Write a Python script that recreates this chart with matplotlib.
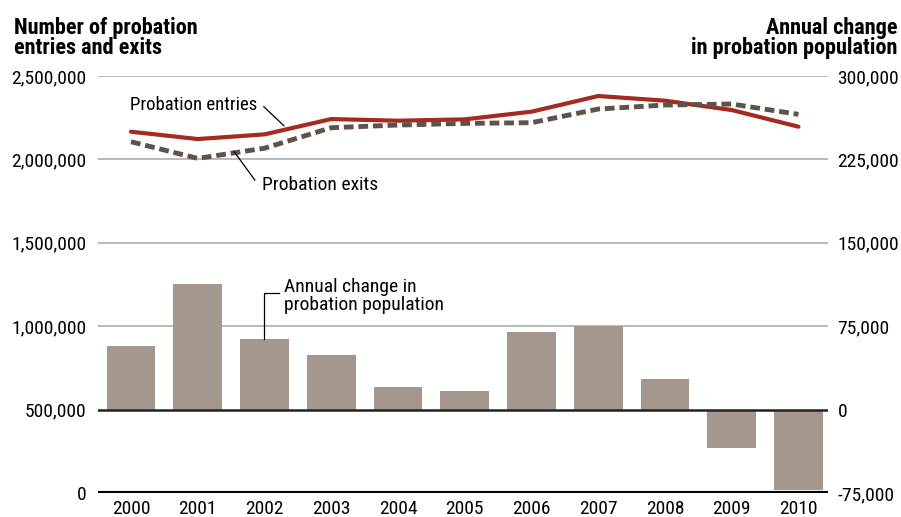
import numpy as np
import matplotlib.pyplot as plt
from matplotlib import font_manager

# ==== data ====
years = [2000, 2001, 2002, 2003, 2004, 2005, 2006, 2007, 2008, 2009, 2010]
entries = [2166000, 2122000, 2150000, 2242000, 2232000, 2240000,
           2286000, 2380000, 2352000, 2296000, 2196000]
exits = [2106000, 2006000, 2067000, 2190000, 2206000, 2216000,
         2220000, 2302000, 2326000, 2332000, 2270000]
annual_change = [57500, 113300, 63800, 49500, 20700, 17100,
                 70100, 74900, 27900, -34800, -72600]

left_ticks = [0, 500000, 1000000, 1500000, 2000000, 2500000]
right_ticks = [-75000, 0, 75000, 150000, 225000, 300000]

names = {f.name for f in font_manager.fontManager.ttflist}
fam = [f for f in ['Liberation Sans Narrow', 'Roboto Condensed', 'Open Sans Condensed'] if f in names]
plt.rcParams['font.family'] = fam + ['DejaVu Sans']

red = '#a52a20'
brown = '#5f5249'
bar_col = '#a3978e'
grid_col = '#b3b3b3'

fig = plt.figure(figsize=(9.01, 5.17), dpi=100)
ax = fig.add_axes([0.1088, 0.0464, 0.810, 0.8066])
ax2 = ax.twinx()

x = np.arange(len(years))

# gridlines on left axis
for t in left_ticks[2:]:
    ax.axhline(t, color=grid_col, lw=1.3, zorder=0)

ax.plot(x, entries, color=red, lw=3, solid_capstyle='round', zorder=3)
ax.plot(x, exits, color=brown, lw=3.5, dashes=(2, 1), zorder=3)

ax2.bar(x, annual_change, width=0.73, color=bar_col, zorder=2)
ax2.axhline(0, color='#222222', lw=1.8, zorder=3)
ax2.axhline(-75000, color='black', lw=3, zorder=3)

ax.set_xlim(-0.494, 10.44)
ax.set_ylim(0, 2500000)
ax2.set_ylim(-75000, 300000)

ax.set_yticks(left_ticks)
ax.set_yticklabels([f'{t:,}' for t in left_ticks])
ax2.set_yticks(right_ticks)
ax2.set_yticklabels([f'{t:,}' for t in right_ticks])
ax.set_xticks(x)
ax.set_xticklabels([str(y) for y in years])

for a in (ax, ax2):
    for s in a.spines.values():
        s.set_visible(False)
    a.tick_params(length=0, labelsize=14)
ax.tick_params(axis='y', pad=8.5)
ax.tick_params(axis='x', pad=5)
ax2.tick_params(axis='y', pad=7)

# annotations
ax.text(-0.015, 2326000, 'Probation entries', fontsize=13.5, va='center', ha='left')
ax.plot([1.99, 2.29], [2316000, 2202000], color='black', lw=0.9, zorder=4)
ax.text(1.957, 1846000, 'Probation exits', fontsize=14, va='center', ha='left')
ax.plot([1.856, 1.542], [1876000, 2048000], color='black', lw=0.9, zorder=4)

ax2.text(2.29, 118500, 'Annual change in\nprobation population', fontsize=14,
         va='top', ha='left', linespacing=1.02)
ax2.plot([2.22, 1.99, 1.99], [104500, 104500, 63800], color='black', lw=0.9, zorder=4)

fig.text(0.0155, 0.968, 'Number of probation\nentries and exits', fontsize=16,
         fontweight='bold', va='top', ha='left', linespacing=0.88)
fig.text(0.996, 0.968, 'Annual change\nin probation population', fontsize=16,
         fontweight='bold', va='top', ha='right', linespacing=0.88)

fig.savefig('out.png', dpi=100)
